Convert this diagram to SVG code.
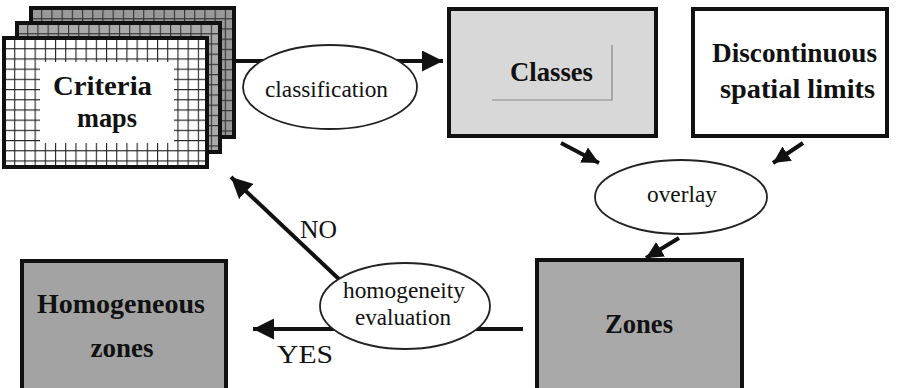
<svg xmlns="http://www.w3.org/2000/svg" width="900" height="388" viewBox="0 0 900 388">
<style>
.box{stroke:#111;stroke-width:4}
.ell{fill:#fff;stroke:#222;stroke-width:1.8}
.con{stroke:#111;stroke-width:4;fill:none}
text{font-family:'Liberation Serif','DejaVu Serif','Times New Roman',serif;fill:#111;text-anchor:middle}
.bl{font-weight:bold;font-size:28px}
.rl{font-size:23px}
.lab{font-size:25px}
</style>
<defs>
<pattern id="gw" x="4" y="38" width="10.2" height="10.2" patternUnits="userSpaceOnUse">
<rect width="10.2" height="10.2" fill="#fff"/>
<path d="M0 0H10.2M0 0V10.2" stroke="#222" stroke-width="2.2"/>
</pattern>
<pattern id="gg" x="17" y="23" width="10.2" height="10.2" patternUnits="userSpaceOnUse">
<rect width="10.2" height="10.2" fill="#aaa"/>
<path d="M0 0H10.2M0 0V10.2" stroke="#333" stroke-width="2.2"/>
</pattern>
<pattern id="gd" x="31" y="8" width="10.2" height="10.2" patternUnits="userSpaceOnUse">
<rect width="10.2" height="10.2" fill="#999"/>
<path d="M0 0H10.2M0 0V10.2" stroke="#333" stroke-width="2.2"/>
</pattern>
<marker id="ah" viewBox="0 0 10 10" refX="10" refY="5" markerWidth="21" markerHeight="21" markerUnits="userSpaceOnUse" orient="auto">
<path d="M0 0L10 5L0 10Z" fill="#111"/>
</marker>
<marker id="as" viewBox="0 0 10 10" refX="10" refY="5" markerWidth="17" markerHeight="17" markerUnits="userSpaceOnUse" orient="auto">
<path d="M0 0L10 5L0 10Z" fill="#111"/>
</marker>
</defs>

<g id="connectors">
<line class="con" x1="210" y1="61" x2="443" y2="61" marker-end="url(#ah)"/>
<line class="con" x1="561" y1="143" x2="599" y2="163" marker-end="url(#as)"/>
<line class="con" x1="803" y1="143" x2="773" y2="163" marker-end="url(#as)"/>
<line class="con" x1="679" y1="238" x2="646" y2="258" marker-end="url(#as)"/>
<line class="con" x1="523" y1="329" x2="253" y2="329" marker-end="url(#ah)"/>
<line class="con" x1="342" y1="282" x2="231" y2="177" marker-end="url(#ah)"/>
<text class="lab" x="318.5" y="238" textLength="37" lengthAdjust="spacingAndGlyphs">NO</text>
<text class="lab" x="305" y="363" textLength="56" lengthAdjust="spacingAndGlyphs">YES</text>
</g>

<g id="criteria-maps">
<rect class="box" x="31" y="8" width="203" height="129" fill="url(#gd)"/>
<rect class="box" x="17" y="23" width="203" height="129" fill="url(#gg)"/>
<rect class="box" x="4" y="38" width="203" height="129" fill="url(#gw)"/>
<rect x="40" y="62" width="134" height="81" fill="#fff"/>
<text class="bl" x="102.5" y="95" textLength="99" lengthAdjust="spacingAndGlyphs">Criteria</text>
<text class="bl" x="107" y="127" textLength="60" lengthAdjust="spacingAndGlyphs">maps</text>
</g>

<g id="classification">
<ellipse class="ell" cx="330" cy="87" rx="87" ry="42"/>
<text class="rl" x="326.5" y="97" textLength="123" lengthAdjust="spacingAndGlyphs">classification</text>
</g>

<g id="classes">
<rect class="box" x="449" y="9" width="207" height="127" fill="#d8d8d8"/>
<path d="M612 45V100H492" stroke="#888" stroke-width="1.2" fill="none"/>
<text class="bl" x="551.5" y="81" textLength="83" lengthAdjust="spacingAndGlyphs">Classes</text>
</g>

<g id="discontinuous">
<rect class="box" x="693" y="9" width="194" height="127" fill="#fff"/>
<text class="bl" x="794.5" y="62" textLength="165" lengthAdjust="spacingAndGlyphs">Discontinuous</text>
<text class="bl" x="797.5" y="98" textLength="155" lengthAdjust="spacingAndGlyphs">spatial limits</text>
</g>

<g id="overlay">
<ellipse class="ell" cx="681" cy="197" rx="86" ry="37"/>
<text class="rl" x="682" y="202" textLength="70" lengthAdjust="spacingAndGlyphs">overlay</text>
</g>

<g id="zones">
<rect class="box" x="537" y="260" width="205" height="140" fill="#a9a9a9"/>
<text class="bl" x="639" y="333" textLength="68" lengthAdjust="spacingAndGlyphs">Zones</text>
</g>

<g id="homogeneity-evaluation">
<ellipse class="ell" cx="405" cy="306" rx="85" ry="43"/>
<text class="rl" x="404" y="298" textLength="122" lengthAdjust="spacingAndGlyphs">homogeneity</text>
<text class="rl" x="403" y="325" textLength="96" lengthAdjust="spacingAndGlyphs">evaluation</text>
</g>

<g id="homogeneous-zones">
<rect class="box" x="22" y="261" width="204" height="140" fill="#a3a3a3"/>
<text class="bl" x="121" y="313" textLength="168" lengthAdjust="spacingAndGlyphs">Homogeneous</text>
<text class="bl" x="122" y="357" textLength="63" lengthAdjust="spacingAndGlyphs">zones</text>
</g>
</svg>
